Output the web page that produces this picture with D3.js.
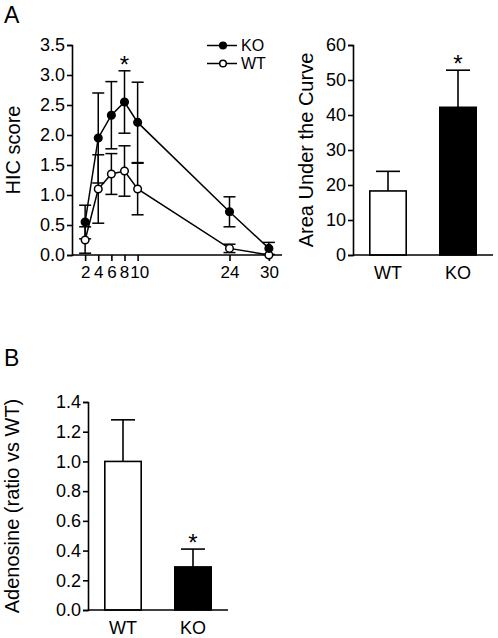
<!DOCTYPE html>
<html>
<head>
<meta charset="utf-8">
<script src="https://cdn.jsdelivr.net/npm/d3@7"></script>
<style>
  html, body { margin: 0; padding: 0; background: #fff; }
  svg { display: block; font-family: "Liberation Sans", Arial, sans-serif; }
</style>
</head>
<body>
<svg id="chart" width="498" height="638"></svg>
<script>
// ---- Data ----
const timePoints = [2, 4, 6, 8, 10, 24, 30];
const koMean = [0.55, 1.95, 2.33, 2.55, 2.21, 0.72, 0.11];
const koErr  = [0.28, 0.75, 0.56, 0.52, 0.67, 0.25, 0.10];
const wtMean = [0.25, 1.10, 1.35, 1.40, 1.10, 0.11, 0.00];
const wtErr  = [0.22, 0.57, 0.34, 0.42, 0.43, 0.07, 0.00];
const hicTicks = [0, 0.5, 1.0, 1.5, 2.0, 2.5, 3.0, 3.5];

const aucGroups = ["WT", "KO"];
const aucMean = [18.3, 42.2];
const aucErr = [5.6, 10.6];
const aucTicks = [0, 10, 20, 30, 40, 50, 60];

const adoGroups = ["WT", "KO"];
const adoMean = [1.0, 0.29];
const adoErr = [0.28, 0.12];
const adoTicks = [0, 0.2, 0.4, 0.6, 0.8, 1.0, 1.2, 1.4];

const groupFill = { WT: "#ffffff", KO: "#000000" };

const svg = d3.select("#chart");
const tickFont = 18;
const titleFont = 20;
const starFont = 24;

function yAxisDraw(g, scale, ticks, fmt) {
  const ax = d3.axisLeft(scale).tickValues(ticks).tickFormat(fmt).tickSize(5).tickPadding(2);
  g.call(ax);
  g.select(".domain").attr("stroke", "#000").attr("stroke-width", 1.6);
  g.selectAll(".tick line").attr("stroke", "#000").attr("stroke-width", 1.6);
  g.selectAll(".tick text").attr("font-size", tickFont).attr("fill", "#000")
    .attr("font-family", "Liberation Sans, Arial, sans-serif");
}

// ================= Panel A: time course =================
const xT = d3.scaleLinear().domain([0, 32]).range([72, 282]);
const yH = d3.scaleLinear().domain([0, 3.5]).range([255, 45]);

svg.append("text").attr("x", 4).attr("y", 23).attr("font-size", 23).text("A");

const gy1 = svg.append("g").attr("transform", `translate(${xT(0)},0)`);
yAxisDraw(gy1, yH, hicTicks, d3.format(".1f"));

const gx1 = svg.append("g").attr("transform", `translate(0,${yH(0)})`);
gx1.call(d3.axisBottom(xT).tickValues(timePoints).tickFormat(d3.format("d")).tickSize(6).tickPadding(5));
gx1.select(".domain").attr("stroke", "#000").attr("stroke-width", 1.6).attr("d", `M${xT(0)},0H${xT(32)}`);
gx1.selectAll(".tick line").attr("stroke", "#000").attr("stroke-width", 1.6);
gx1.selectAll(".tick text").attr("font-size", 17).attr("fill", "#000")
  .attr("font-family", "Liberation Sans, Arial, sans-serif")
  .attr("dx", d => d === 10 ? 1.5 : (d === 8 ? -0.5 : 0));

svg.append("text")
  .attr("transform", `translate(20,${(yH(0) + yH(3.5)) / 2}) rotate(-90)`)
  .attr("text-anchor", "middle").attr("font-size", titleFont).text("HIC score");

const seriesA = [
  { name: "WT", mean: wtMean, err: wtErr },
  { name: "KO", mean: koMean, err: koErr }
];

const capW = 6;
seriesA.forEach(s => {
  const g = svg.append("g");
  timePoints.forEach((t, i) => {
    if (s.err[i] <= 0) return;
    const x = xT(t), y1 = yH(s.mean[i] + s.err[i]), y0 = yH(Math.max(0, s.mean[i] - s.err[i]));
    g.append("line").attr("x1", x).attr("x2", x).attr("y1", y1).attr("y2", y0).attr("stroke", "#000").attr("stroke-width", 1.5);
    g.append("line").attr("x1", x - capW).attr("x2", x + capW).attr("y1", y1).attr("y2", y1).attr("stroke", "#000").attr("stroke-width", 1.5);
    g.append("line").attr("x1", x - capW).attr("x2", x + capW).attr("y1", y0).attr("y2", y0).attr("stroke", "#000").attr("stroke-width", 1.5);
  });
});

const line = d3.line().x(d => xT(d[0])).y(d => yH(d[1]));
seriesA.forEach(s => {
  svg.append("path").datum(timePoints.map((t, i) => [t, s.mean[i]]))
    .attr("d", line).attr("fill", "none").attr("stroke", "#000").attr("stroke-width", 1.5);
});
seriesA.forEach(s => {
  svg.append("g").selectAll("circle").data(timePoints.map((t, i) => [t, s.mean[i]])).join("circle")
    .attr("cx", d => xT(d[0])).attr("cy", d => yH(d[1])).attr("r", 3.8)
    .attr("fill", groupFill[s.name]).attr("stroke", "#000").attr("stroke-width", 1.5);
});

svg.append("text").attr("x", xT(8)).attr("y", yH(3.07) + 2).attr("text-anchor", "middle").attr("font-size", starFont).text("*");

// legend
[["KO", 45.5], ["WT", 63.5]].forEach(([name, ly]) => {
  svg.append("line").attr("x1", 207).attr("x2", 237).attr("y1", ly).attr("y2", ly).attr("stroke", "#000").attr("stroke-width", 1.5);
  svg.append("circle").attr("cx", 223).attr("cy", ly).attr("r", 3.3).attr("fill", groupFill[name]).attr("stroke", "#000").attr("stroke-width", 1.5);
  svg.append("text").attr("x", 241).attr("y", ly).attr("dy", "0.35em").attr("font-size", 16).text(name);
});

// ================= Panel A: AUC bars =================
const xA = d3.scaleBand().domain(aucGroups).range([353, 493]).paddingInner(0.48).paddingOuter(0.24);
const yA = d3.scaleLinear().domain([0, 60]).range([255, 45]);

const gy2 = svg.append("g").attr("transform", `translate(353,0)`);
yAxisDraw(gy2, yA, aucTicks, d3.format("d"));

svg.append("text")
  .attr("transform", `translate(313,${(yA(0) + yA(60)) / 2}) rotate(-90)`)
  .attr("text-anchor", "middle").attr("font-size", titleFont).text("Area Under the Curve");

aucGroups.forEach((gname, i) => {
  const x = xA(gname), w = xA.bandwidth(), cx = x + w / 2;
  const top = yA(aucMean[i] + aucErr[i]);
  svg.append("line").attr("x1", cx).attr("x2", cx).attr("y1", top).attr("y2", yA(aucMean[i])).attr("stroke", "#000").attr("stroke-width", 1.6);
  svg.append("line").attr("x1", cx - 12).attr("x2", cx + 12).attr("y1", top).attr("y2", top).attr("stroke", "#000").attr("stroke-width", 1.6);
  svg.append("rect").attr("x", x).attr("y", yA(aucMean[i])).attr("width", w).attr("height", yA(0) - yA(aucMean[i]))
    .attr("fill", groupFill[gname]).attr("stroke", "#000").attr("stroke-width", 1.6);
  svg.append("text").attr("x", cx).attr("y", 279).attr("text-anchor", "middle").attr("font-size", tickFont).text(gname);
});
svg.append("line").attr("x1", 353).attr("x2", 493).attr("y1", yA(0)).attr("y2", yA(0)).attr("stroke", "#000").attr("stroke-width", 1.6);
svg.append("text").attr("x", xA("KO") + xA.bandwidth() / 2).attr("y", yA(aucMean[1] + aucErr[1]) + 2)
  .attr("text-anchor", "middle").attr("font-size", starFont).text("*");

// ================= Panel B: Adenosine =================
svg.append("text").attr("x", 4).attr("y", 366).attr("font-size", 23).text("B");

const xB = d3.scaleBand().domain(adoGroups).range([88, 228]).paddingInner(0.48).paddingOuter(0.24);
const yB = d3.scaleLinear().domain([0, 1.4]).range([610, 402]);

const gy3 = svg.append("g").attr("transform", `translate(88,0)`);
yAxisDraw(gy3, yB, adoTicks, d3.format(".1f"));

svg.append("text")
  .attr("transform", `translate(19,${(yB(0) + yB(1.4)) / 2}) rotate(-90)`)
  .attr("text-anchor", "middle").attr("font-size", titleFont).text("Adenosine (ratio vs WT)");

adoGroups.forEach((gname, i) => {
  const x = xB(gname), w = xB.bandwidth(), cx = x + w / 2;
  const top = yB(adoMean[i] + adoErr[i]);
  svg.append("line").attr("x1", cx).attr("x2", cx).attr("y1", top).attr("y2", yB(adoMean[i])).attr("stroke", "#000").attr("stroke-width", 1.6);
  svg.append("line").attr("x1", cx - 12).attr("x2", cx + 12).attr("y1", top).attr("y2", top).attr("stroke", "#000").attr("stroke-width", 1.6);
  svg.append("rect").attr("x", x).attr("y", yB(adoMean[i])).attr("width", w).attr("height", yB(0) - yB(adoMean[i]))
    .attr("fill", groupFill[gname]).attr("stroke", "#000").attr("stroke-width", 1.6);
  svg.append("text").attr("x", cx).attr("y", 634).attr("text-anchor", "middle").attr("font-size", tickFont).text(gname);
});
svg.append("line").attr("x1", 88).attr("x2", 228).attr("y1", yB(0)).attr("y2", yB(0)).attr("stroke", "#000").attr("stroke-width", 1.6);
svg.append("text").attr("x", xB("KO") + xB.bandwidth() / 2).attr("y", yB(adoMean[1] + adoErr[1]) + 2)
  .attr("text-anchor", "middle").attr("font-size", starFont).text("*");
</script>
</body>
</html>
